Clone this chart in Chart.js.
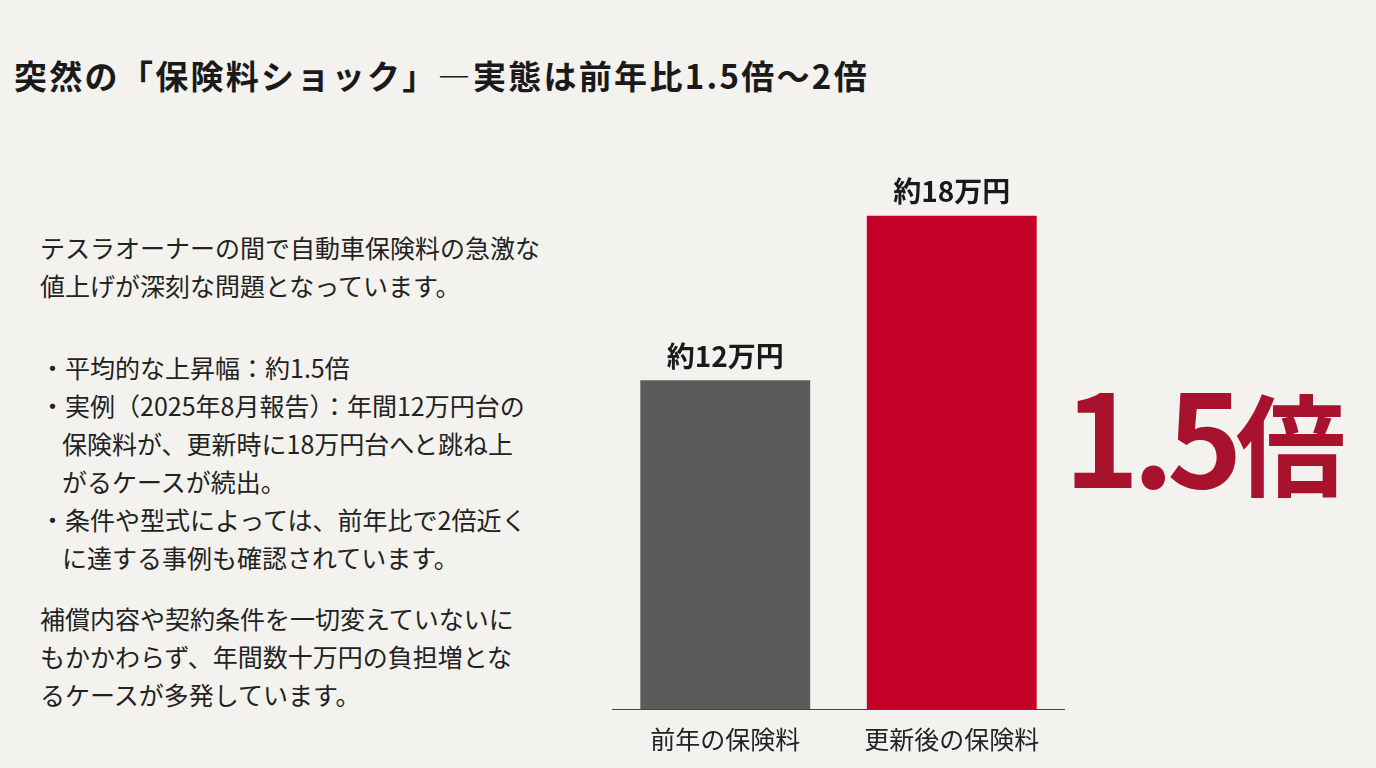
<!DOCTYPE html>
<html lang="ja">
<head>
<meta charset="utf-8">
<script src="https://cdn.jsdelivr.net/npm/chart.js@4.4.0/dist/chart.umd.min.js"></script>
<style>
  html, body { margin: 0; padding: 0; }
  body {
    width: 1376px; height: 768px; overflow: hidden; position: relative;
    background: #f3f2ee; color: #1a1a1a;
    font-family: "Noto Sans CJK JP", "Noto Sans", sans-serif;
  }
  h1 {
    position: absolute; left: 14px; top: 50px; margin: 0;
    font-size: 33px; font-weight: 700; line-height: 50px; white-space: nowrap;
    letter-spacing: 2.3px;
  }
  .texto {
    position: absolute; left: 40px; top: 228px; width: 560px;
    font-size: 25px; line-height: 38px; color: #222; white-space: nowrap;
  }
  .texto p { margin: 0; }
  .texto ul { list-style: none; margin: 44px 0 23px 0; padding: 0; }
  .texto li { padding-left: 22px; text-indent: -22px; }
  .grande {
    position: absolute; left: 1064px; top: 353px;
    font-weight: 700; color: #a9122d; line-height: 160px; white-space: nowrap;
  }
  .grande .num { font-size: 128px; letter-spacing: -7px; }
  .grande .kan { font-size: 110px; margin-left: 0; }
  #caja { position: absolute; left: 612px; top: 161px; width: 453px; height: 600px; }
</style>
</head>
<body>
<h1>突然の「保険料ショック」—実態は前年比1.5倍～2倍</h1>
<div class="texto">
  <p>テスラオーナーの間で自動車保険料の急激な<br>値上げが深刻な問題となっています。</p>
  <ul>
    <li>・平均的な上昇幅：約1.5倍</li>
    <li>・実例（2025年8月報告）：年間12万円台の<br>保険料が、更新時に18万円台へと跳ね上<br>がるケースが続出。</li>
    <li>・条件や型式によっては、前年比で2倍近く<br>に達する事例も確認されています。</li>
  </ul>
  <p>補償内容や契約条件を一切変えていないに<br>もかかわらず、年間数十万円の負担増とな<br>るケースが多発しています。</p>
</div>
<div class="grande"><span class="num">1.5</span><span class="kan">倍</span></div>
<div id="caja"><canvas id="grafico"></canvas></div>
<script>
// datos del gráfico (万円)
const categorias = ['前年の保険料', '更新後の保険料'];
const valores    = [12, 18];
const etiquetas  = ['約12万円', '約18万円'];
const colores    = ['#5b5b5b', '#c40027'];

// etiquetas encima de cada barra
const pluginEtiquetas = {
  id: 'etiquetas',
  afterDatasetsDraw(chart) {
    const ctx = chart.ctx;
    const meta = chart.getDatasetMeta(0);
    ctx.save();
    ctx.font = '700 28px "Noto Sans CJK JP"';
    ctx.fillStyle = '#1a1a1a';
    ctx.textAlign = 'center';
    ctx.textBaseline = 'middle';
    meta.data.forEach((barra, i) => {
      ctx.fillText(etiquetas[i], barra.x, barra.y - 24);
    });
    ctx.restore();
  }
};

new Chart(document.getElementById('grafico'), {
  type: 'bar',
  data: {
    labels: categorias,
    datasets: [{
      data: valores,
      backgroundColor: colores,
      barPercentage: 0.75,
      categoryPercentage: 1
    }]
  },
  options: {
    responsive: true,
    maintainAspectRatio: false,
    animation: false,
    layout: { padding: { top: 0, bottom: 0, left: 0, right: 0 } },
    plugins: { legend: { display: false }, tooltip: { enabled: false } },
    scales: {
      x: {
        grid: { display: false },
        border: { display: true, color: '#444', width: 1 },
        ticks: { color: '#222', padding: 7, font: { family: 'Noto Sans CJK JP', size: 25 } }
      },
      y: {
        display: false,
        min: 0,
        max: 20
      }
    }
  },
  plugins: [pluginEtiquetas]
});
</script>
</body>
</html>
